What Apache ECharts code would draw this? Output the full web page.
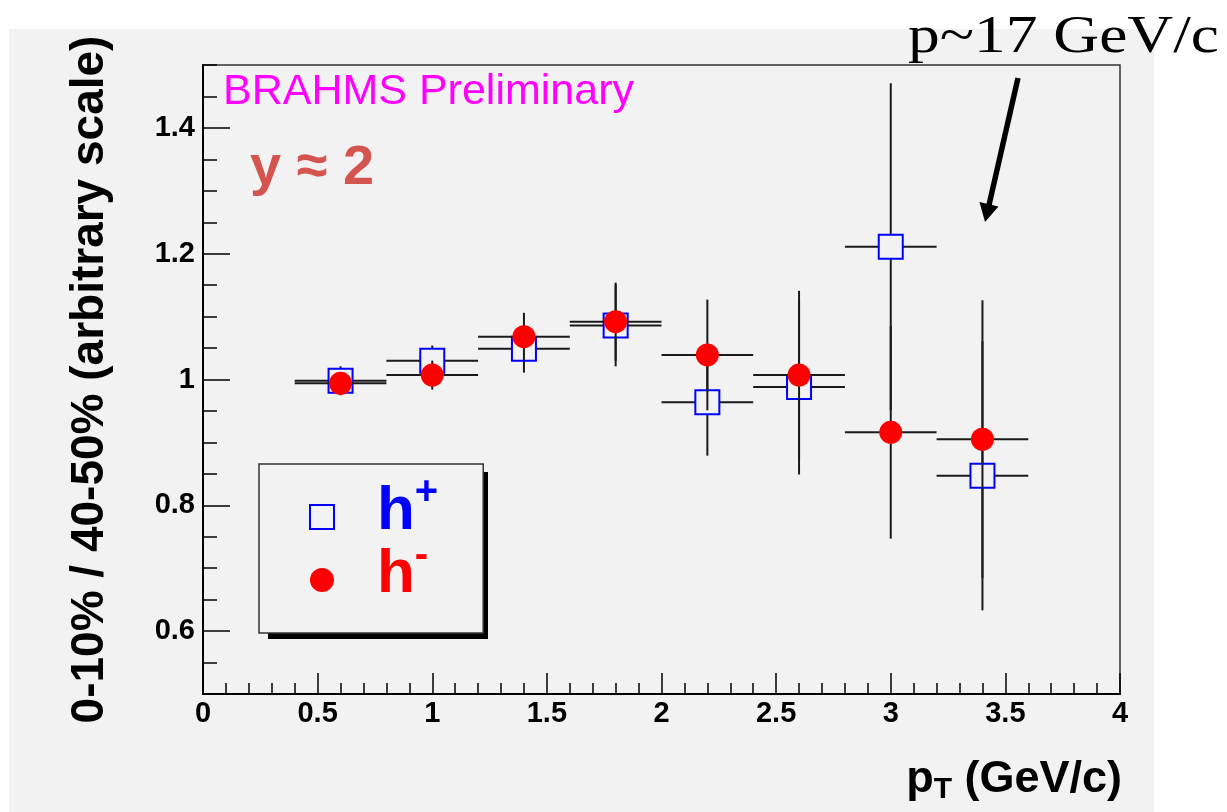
<!DOCTYPE html>
<html>
<head>
<meta charset="utf-8">
<script src="https://cdn.jsdelivr.net/npm/echarts@6/dist/echarts.min.js"></script>
<style>
html,body{margin:0;padding:0;background:#fff;}
#c{width:1227px;height:812px;}
</style>
</head>
<body>
<div id="c"></div>
<script>
// ---- data ----
var pT        = [0.6, 1.0, 1.4, 1.8, 2.2, 2.6, 3.0, 3.4];
var pTErr     = [0.2, 0.2, 0.2, 0.2, 0.2, 0.2, 0.2, 0.2];
var hPlus     = [0.998, 1.030, 1.049, 1.086, 0.964, 0.988, 1.211, 0.847];
var hPlusErr  = [0.023, 0.024, 0.038, 0.065, 0.085, 0.139, 0.260, 0.214];
var hMinus    = [0.994, 1.007, 1.068, 1.092, 1.039, 1.007, 0.916, 0.905];
var hMinusErr = [0.012, 0.023, 0.038, 0.062, 0.088, 0.134, 0.169, 0.221];
var yMajorTicks = [0.6, 0.8, 1, 1.2, 1.4];

var SANS = '"Liberation Sans", Arial, Helvetica, sans-serif';

function pts(ys) { return pT.map(function (x, i) { return [x, ys[i]]; }); }
function errPts(ys, es) { return pT.map(function (x, i) { return [x, ys[i], pTErr[i], es[i]]; }); }

function errRender(gap) {
  return function (params, api) {
    var x = api.value(0), y = api.value(1), xe = api.value(2), ye = api.value(3);
    var c = api.coord([x, y]);
    var l = api.coord([x - xe, y]), r = api.coord([x + xe, y]);
    var t = api.coord([x, y + ye]), b = api.coord([x, y - ye]);
    var st = { stroke: '#1a1a1a', lineWidth: 2 };
    var ch = [];
    function seg(x1, y1, x2, y2) {
      ch.push({ type: 'line', shape: { x1: x1, y1: y1, x2: x2, y2: y2 }, style: st, silent: true });
    }
    if (l[0] < c[0] - gap) seg(l[0], c[1], c[0] - gap, c[1]);
    if (r[0] > c[0] + gap) seg(c[0] + gap, c[1], r[0], c[1]);
    if (t[1] < c[1] - gap) seg(c[0], t[1], c[0], c[1] - gap);
    if (b[1] > c[1] + gap) seg(c[0], c[1] + gap, c[0], b[1]);
    return { type: 'group', children: ch };
  };
}

var chart = echarts.init(document.getElementById('c'), null, { renderer: 'canvas' });

var option = {
  animation: false,
  backgroundColor: '#ffffff',
  grid: {
    left: 203, top: 65, right: 107, bottom: 118,
    show: true, borderColor: '#333', borderWidth: 1.5, backgroundColor: 'transparent',
    containLabel: false
  },
  xAxis: {
    type: 'value', min: 0, max: 4, interval: 0.5,
    name: '{p|p}{t|T}{n| (GeV/c)}',
    nameLocation: 'end', nameGap: 2,
    nameTextStyle: {
      align: 'right', verticalAlign: 'top', padding: [61, 0, 0, 0],
      rich: {
        p: { fontSize: 45, fontFamily: SANS, fontWeight: 'bold', color: '#000', lineHeight: 50 },
        t: { fontSize: 30, fontFamily: SANS, fontWeight: 'bold', color: '#000', lineHeight: 20, verticalAlign: 'bottom' },
        n: { fontSize: 45, fontFamily: SANS, fontWeight: 'bold', color: '#000', lineHeight: 50 }
      }
    },
    axisLine: { show: true, onZero: false, lineStyle: { color: '#000', width: 2 } },
    axisTick: { show: true, inside: true, length: 21, lineStyle: { color: '#000', width: 1.5 } },
    minorTick: { show: true, splitNumber: 5, length: 11, lineStyle: { color: '#000', width: 1.5 } },
    splitLine: { show: false },
    minorSplitLine: { show: false },
    axisLabel: {
      show: true, margin: 5, color: '#000', fontSize: 29, fontWeight: 'bold', fontFamily: SANS,
      showMinLabel: true, showMaxLabel: true
    }
  },
  yAxis: [
    {
      type: 'value', min: 0.5, max: 1.5, interval: 0.05,
      name: '0-10% / 40-50% (arbitrary scale)',
      nameLocation: 'middle', nameGap: 90, nameRotate: 90,
      nameTextStyle: { fontSize: 46, fontWeight: 'bold', fontFamily: SANS, color: '#000' },
      axisLine: { show: true, onZero: false, lineStyle: { color: '#000', width: 2 } },
      axisTick: { show: true, inside: true, length: 14, lineStyle: { color: '#000', width: 1.5 } },
      splitLine: { show: false },
      axisLabel: { show: false }
    },
    {
      type: 'value', min: 0.5, max: 1.5, position: 'left',
      axisLine: { show: false },
      axisTick: { show: true, inside: true, length: 27, customValues: yMajorTicks,
                  lineStyle: { color: '#000', width: 1.5 } },
      splitLine: { show: false },
      axisLabel: {
        show: true, customValues: yMajorTicks, margin: 8,
        color: '#000', fontSize: 29, fontWeight: 'bold', fontFamily: SANS
      }
    }
  ],
  legend: {
    show: true,
    orient: 'vertical',
    left: 259, top: 464,
    padding: [9, 45, 27, 50],
    itemWidth: 24, itemHeight: 24, itemGap: -7,
    selectedMode: false,
    backgroundColor: '#f2f2f2',
    borderColor: '#333', borderWidth: 1.5, borderRadius: 0,
    data: [
      { name: 'h+', icon: 'rect', itemStyle: { color: 'rgba(0,0,0,0)', borderColor: '#0000ff', borderWidth: 2 } },
      { name: 'h-', icon: 'circle', itemStyle: { color: '#ff0000', borderWidth: 0 } }
    ],
    formatter: function (name) {
      return name === 'h+' ? '{hb|h}{pb|+}' : '{hr|h}{pr|-}';
    },
    textStyle: {
      padding: [0, 0, 10, 38],
      rich: {
        hb: { color: '#0000ff', fontSize: 62, fontWeight: 'bold', fontFamily: SANS, lineHeight: 78 },
        pb: { color: '#0000ff', fontSize: 40, fontWeight: 'bold', fontFamily: SANS, lineHeight: 4, verticalAlign: 'top' },
        hr: { color: '#ff0000', fontSize: 62, fontWeight: 'bold', fontFamily: SANS, lineHeight: 78 },
        pr: { color: '#ff0000', fontSize: 40, fontWeight: 'bold', fontFamily: SANS, lineHeight: 4, verticalAlign: 'top' }
      }
    }
  },
  graphic: [
    { type: 'rect', z: -10, silent: true,
      shape: { x: 9, y: 29, width: 1145, height: 790 },
      style: { fill: '#f2f2f2' } },
    { type: 'rect', z: 1, silent: true,
      shape: { x: 268, y: 472, width: 220, height: 167 },
      style: { fill: '#000' } },
    { type: 'text', silent: true, x: 223, y: 92,
      style: { text: 'BRAHMS Preliminary', fill: '#ff00ff', font: '43px ' + SANS,
               textAlign: 'left', verticalAlign: 'middle', textVerticalAlign: 'middle' } },
    { type: 'text', silent: true, x: 250, y: 169,
      style: { text: 'y \u2248 2', fill: '#d4554f', font: 'bold 56px ' + SANS,
               textAlign: 'left', verticalAlign: 'middle', textVerticalAlign: 'middle' } },
    { type: 'text', silent: true, x: 908, y: 38, scaleX: 1.22, scaleY: 1,
      style: { text: 'p~17 GeV/c', fill: '#000', font: '52px "Liberation Serif", "Times New Roman", serif',
               textAlign: 'left', verticalAlign: 'middle', textVerticalAlign: 'middle' } },
    { type: 'line', silent: true,
      shape: { x1: 1018, y1: 78, x2: 989, y2: 205 },
      style: { stroke: '#000', lineWidth: 5.5 } },
    { type: 'polygon', silent: true,
      shape: { points: [[979.5, 202], [998.5, 206.5], [985, 222]] },
      style: { fill: '#000' } }
  ],
  series: [
    {
      name: 'h+ err', type: 'custom', silent: true, z: 2,
      renderItem: errRender(12),
      encode: { x: 0, y: 1 },
      data: errPts(hPlus, hPlusErr)
    },
    {
      name: 'h+', type: 'scatter', silent: true, z: 3,
      symbol: 'rect', symbolSize: 24,
      itemStyle: { color: 'rgba(0,0,0,0)', borderColor: '#0000ff', borderWidth: 2, opacity: 1 },
      data: pts(hPlus)
    },
    {
      name: 'h- err', type: 'custom', silent: true, z: 4,
      renderItem: errRender(11),
      encode: { x: 0, y: 1 },
      data: errPts(hMinus, hMinusErr)
    },
    {
      name: 'h-', type: 'scatter', silent: true, z: 5,
      symbol: 'circle', symbolSize: 23,
      itemStyle: { color: '#ff0000', opacity: 1 },
      data: pts(hMinus)
    }
  ]
};

chart.setOption(option);
</script>
</body>
</html>
